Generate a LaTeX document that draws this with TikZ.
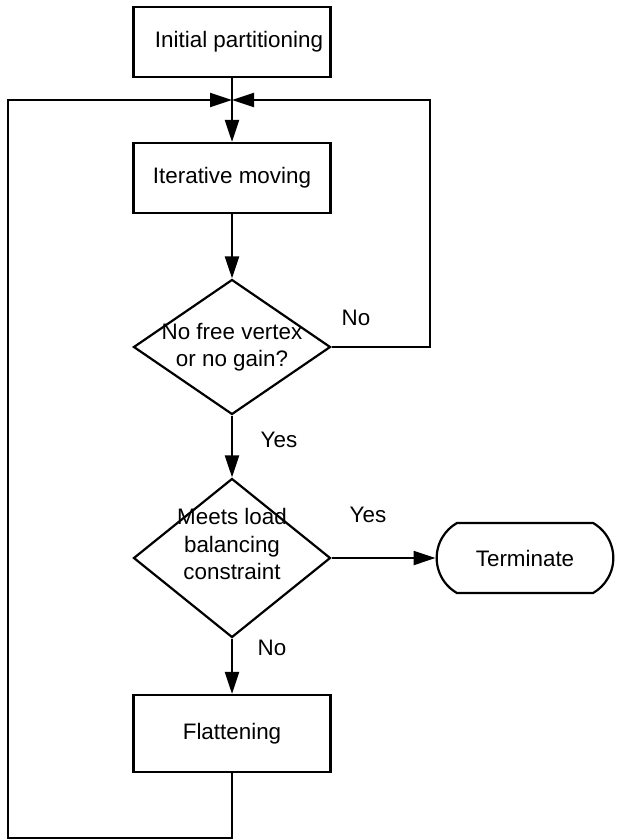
\documentclass[tikz,border=0pt]{standalone}
\usepackage{fontspec}
\setmainfont{Liberation Sans}
\usetikzlibrary{arrows.meta, positioning, shapes.geometric, shapes.misc}

\begin{document}
\begin{tikzpicture}[
    x=0.5pt, y=-0.5pt,
    font=\fontsize{11.2}{13.6}\selectfont,
    line width=1.1pt,
    pbox/.style={draw, rectangle, minimum width=98.5pt, minimum height=35pt, align=center},
    decide/.style={draw, diamond, minimum width=98.5pt, inner sep=0pt},
    termbox/.style={draw, rounded rectangle, rounded rectangle arc length=120, minimum width=95pt, minimum height=35pt},
    arrow/.style={-{Triangle[length=11pt, width=7pt]}},
]
\useasboundingbox (0,0) rectangle (624,840);

% Process boxes
\node[pbox] (init) at (232, 42) {\hspace*{7pt}Initial partitioning};
\node[pbox] (iter) at (232, 178) {Iterative moving};
\node[pbox, minimum height=38.5pt] (flat) at (232, 733.5) {Flattening};

% Decisions
\node[decide, minimum height=67.5pt] (dec1) at (232, 347) {};
\node[align=center] (dec1txt) at (dec1) {No free vertex\\or no gain?};
\node[decide, minimum height=79.5pt] (dec2) at (232, 558) {};
\node[align=center] (dec2txt) at (232, 544) {Meets load\\balancing\\constraint};

% End
\node[termbox] (term) at (525, 558) {Terminate};

% Loop corners
\coordinate (join) at (232, 100);
\coordinate (lefttop) at (8, 100);
\coordinate (leftbot) at (8, 838);
\coordinate (righttop) at (430, 100);

% Flow
\draw[arrow] (init) -- (iter);
\draw[arrow] (iter) -- (dec1);
\draw[arrow] (dec1) -- (dec2);
\draw[arrow] (dec2) -- (flat);
\draw[arrow] (dec2) -- (term);
\draw[arrow] (dec1.east) -| (righttop) -- (join);
\draw[arrow] (flat.south) |- (leftbot) -- (lefttop) -- (join);

% Branch labels
\node (no1) at (356, 318) {No};
\node (yes1) at (279, 440) {Yes};
\node (yes2) at (368, 515) {Yes};
\node (no2) at (272, 648) {No};

\end{tikzpicture}
\end{document}
